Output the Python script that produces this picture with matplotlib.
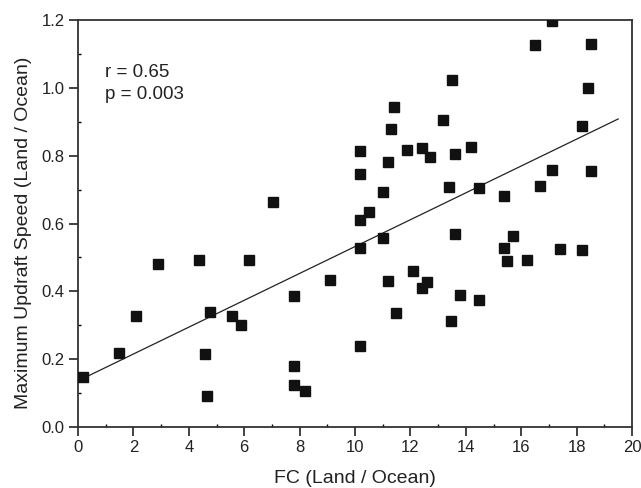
import matplotlib
matplotlib.use("Agg")
import matplotlib.pyplot as plt
from matplotlib.ticker import MultipleLocator, FormatStrFormatter

plt.rcParams['font.family'] = ['Liberation Sans', 'DejaVu Sans']

# FC ratio (land / ocean) and max updraft speed ratio
fc = [0.19, 1.49, 2.08, 2.89, 4.38, 4.58, 4.67, 4.78, 5.57, 5.88, 6.19, 7.03,
      7.80, 7.80, 7.80, 8.18, 9.10, 10.19, 10.19, 10.19, 10.19, 10.19, 10.49,
      11.0, 11.0, 11.19, 11.19, 11.30, 11.40, 11.48, 11.89, 12.09, 12.41, 12.41,
      12.6, 12.70, 13.19, 13.41, 13.48, 13.49, 13.60, 13.60, 13.79, 14.17,
      14.49, 14.49, 15.39, 15.39, 15.5, 15.69, 16.2, 16.5, 16.69, 17.1, 17.1,
      17.4, 18.2, 18.2, 18.4, 18.51, 18.51]
updraft = [0.148, 0.217, 0.327, 0.481, 0.493, 0.215, 0.09, 0.338, 0.327, 0.30,
           0.492, 0.662, 0.386, 0.181, 0.125, 0.105, 0.433, 0.815, 0.747, 0.609,
           0.527, 0.239, 0.633, 0.693, 0.557, 0.781, 0.430, 0.879, 0.943, 0.337,
           0.817, 0.46, 0.822, 0.409, 0.429, 0.796, 0.906, 0.707, 0.312, 1.024,
           0.805, 0.570, 0.389, 0.825, 0.705, 0.374, 0.680, 0.529, 0.490, 0.562,
           0.493, 1.126, 0.711, 1.197, 0.757, 0.525, 0.887, 0.521, 1.0, 1.128,
           0.754]

# linear fit as drawn in the figure
fit_x = [0.2, 19.5]
fit_slope = 0.0396
fit_intercept = 0.136
fit_y = [fit_intercept + fit_slope * v for v in fit_x]

fig = plt.figure(figsize=(6.41, 4.88), dpi=100)
ax = fig.add_axes([0.1217, 0.125, 0.8643, 0.834])

ax.plot(fc, updraft, linestyle='none', marker='s', markersize=6.5,
        color='#111111', zorder=3)
ax.plot(fit_x, fit_y, color='#222222', linewidth=0.9)

ax.set_xlim(0, 20)
ax.set_ylim(0, 1.2)
ax.xaxis.set_major_locator(MultipleLocator(2))
ax.xaxis.set_minor_locator(MultipleLocator(1))
ax.yaxis.set_major_locator(MultipleLocator(0.2))
ax.yaxis.set_minor_locator(MultipleLocator(0.1))
ax.xaxis.set_major_formatter(FormatStrFormatter('%d'))
ax.yaxis.set_major_formatter(FormatStrFormatter('%.1f'))

ax.tick_params(which='major', direction='out', length=6.5, width=1.2,
               labelsize=12, colors='#222222', pad=3)
ax.tick_params(which='minor', direction='in', length=2.5, width=1)
for sp in ax.spines.values():
    sp.set_linewidth(1.3)
    sp.set_color('#333333')

ax.set_xlabel('FC (Land / Ocean)', fontsize=14, color='#222222', labelpad=11)
ax.set_ylabel('Maximum Updraft Speed (Land / Ocean)', fontsize=14,
              color='#222222')
ax.yaxis.set_label_coords(-0.083, 0.477)

ax.text(0.0487, 0.860, 'r = 0.65', transform=ax.transAxes,
        fontsize=13.5, va='baseline', ha='left', color='#222222')
ax.text(0.0487, 0.806, 'p = 0.003', transform=ax.transAxes,
        fontsize=13.5, va='baseline', ha='left', color='#222222')

fig.savefig('out.png', dpi=100)
